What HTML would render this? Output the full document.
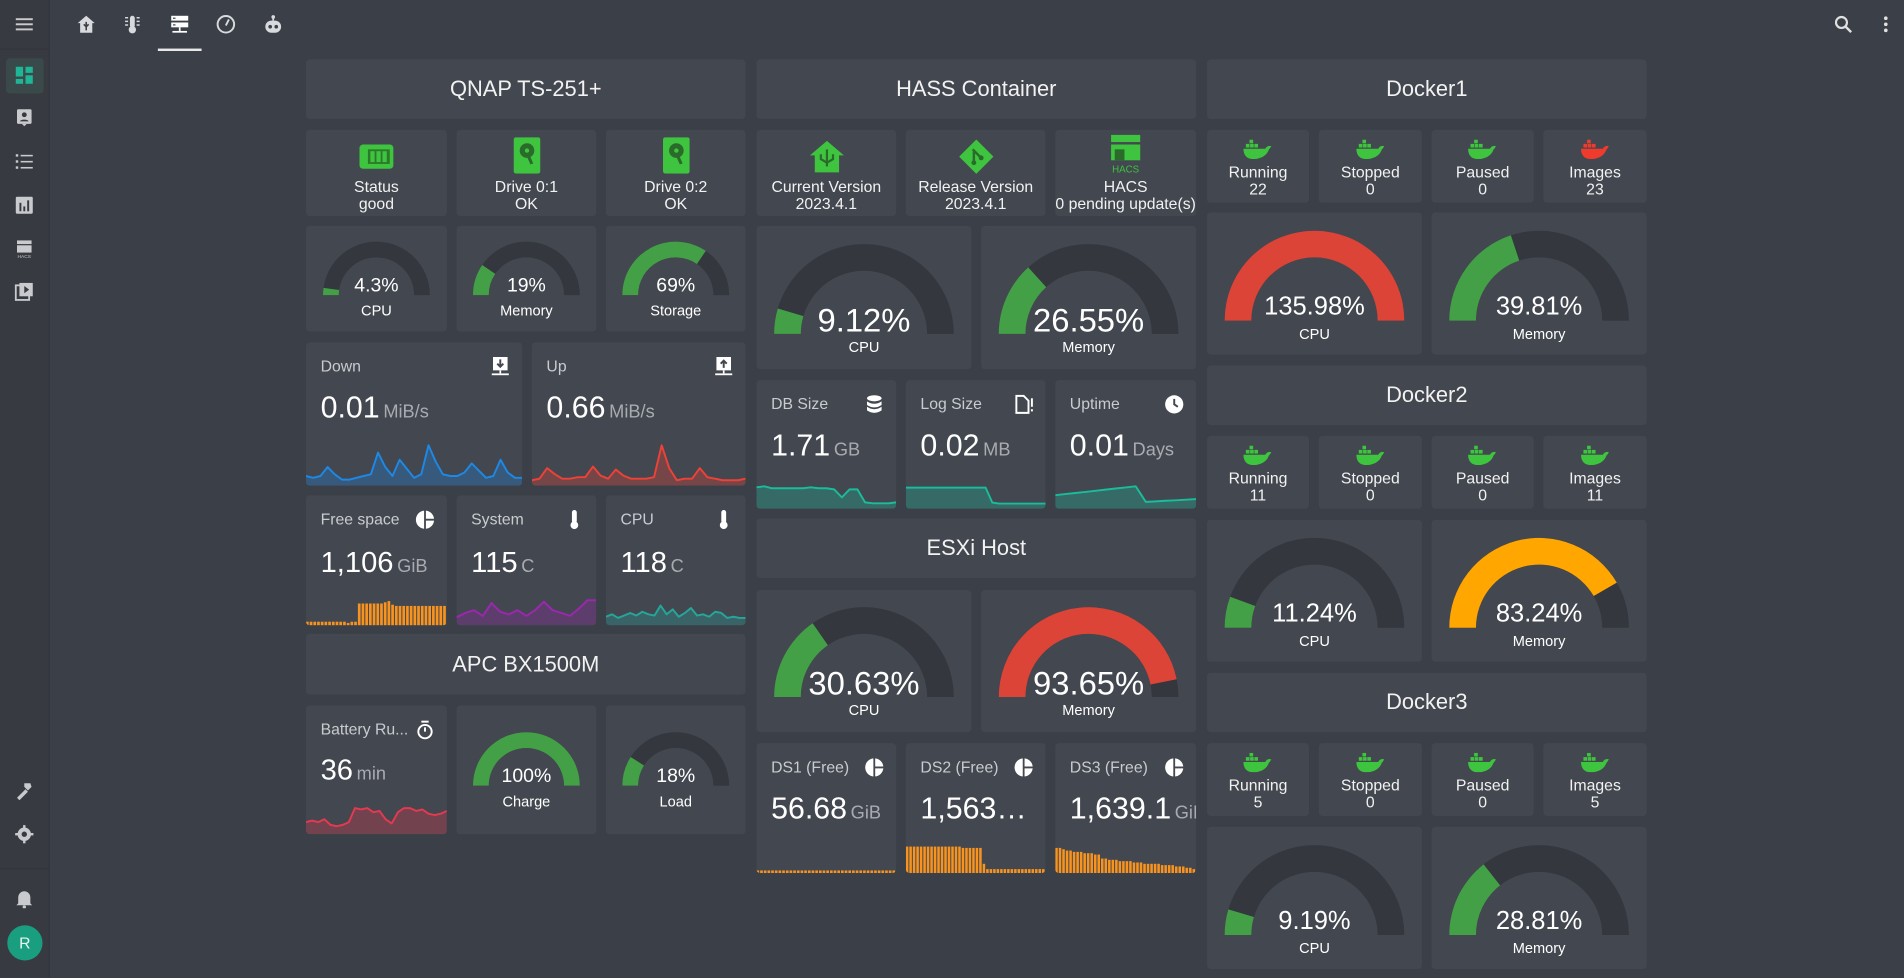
<!DOCTYPE html>
<html><head><meta charset="utf-8">
<style>
html,body{margin:0;padding:0;width:1904px;height:977px;overflow:hidden;background:#3b3f47;font-family:"Liberation Sans",sans-serif;color:#fff}
#wrap{position:absolute;left:0;top:0;width:1568px;height:805px;transform:scale(1.21429);transform-origin:0 0;background:#3b3f47}
.c{position:absolute;background:#43474f;border-radius:3px;overflow:hidden}
.tt{text-align:center;font-size:18px;color:#f2f2f2}
.st{text-align:center;font-size:13px;line-height:14px;color:#f2f2f2}
.st .ic{position:absolute;left:50%;transform:translateX(-50%)}
.en .t{position:absolute;left:12px;top:12px;font-size:13px;color:#c9cbcf;white-space:nowrap}
.en .i{position:absolute;right:10px;top:12px;width:16px;height:16px}
.en .v{position:absolute;left:12px;font-size:25px;color:#fff;white-space:nowrap}
.en .v span{font-size:15px;color:#a9abb0;margin-left:3px}
.en svg.sp{position:absolute;left:0;bottom:0}
.g svg{position:absolute;left:0;top:0}
.g .gv{position:absolute;left:0;right:0;text-align:center;color:#fff}
.g .gl{position:absolute;left:0;right:0;text-align:center;font-size:12px;color:#fff}
#side{position:absolute;left:0;top:0;width:40px;height:805px;background:#373a41;border-right:1px solid #33363c}
.si{position:absolute;left:12px;width:16px;height:16px}
</style></head><body>
<div id="wrap">
<div id="side">
 <svg class="si" style="top:12px" viewBox="0 0 16 16"><rect x="1" y="3" width="14" height="1.6" fill="#c8cacd"/><rect x="1" y="7.2" width="14" height="1.6" fill="#c8cacd"/><rect x="1" y="11.4" width="14" height="1.6" fill="#c8cacd"/></svg>
 <div style="position:absolute;left:0;top:40px;width:40px;height:1px;background:#33363c"></div>
 <div style="position:absolute;left:5px;top:48px;width:31px;height:29px;background:#3a4a4a;border-radius:3px"></div>
 <svg class="si" style="top:54px" viewBox="0 0 16 16"><rect x="1" y="1" width="6" height="8" fill="#1fb597"/><rect x="9" y="1" width="6" height="5" fill="#1fb597"/><rect x="1" y="11" width="6" height="4" fill="#1fb597"/><rect x="9" y="8" width="6" height="7" fill="#1fb597"/></svg>
 <svg class="si" style="top:89px" viewBox="0 0 16 16"><rect x="2" y="1" width="12" height="12" rx="1" fill="#c8cacd"/><circle cx="8" cy="5.5" r="2" fill="#373a41"/><path d="M4.5 11c0-2 7-2 7 0z" fill="#373a41"/><path d="M6 13l2 2 2-2z" fill="#c8cacd"/></svg>
 <svg class="si" style="top:125px" viewBox="0 0 16 16"><g fill="#c8cacd"><rect x="1" y="2" width="2" height="2"/><rect x="5" y="2.5" width="10" height="1.3"/><rect x="1" y="7" width="2" height="2"/><rect x="5" y="7.5" width="10" height="1.3"/><rect x="1" y="12" width="2" height="2"/><rect x="5" y="12.5" width="10" height="1.3"/></g></svg>
 <svg class="si" style="top:161px" viewBox="0 0 16 16"><rect x="1" y="1" width="14" height="14" rx="1" fill="#c8cacd"/><g fill="#373a41"><rect x="4" y="6" width="1.6" height="7"/><rect x="7.2" y="9" width="1.6" height="4"/><rect x="10.4" y="4" width="1.6" height="9"/></g></svg>
 <svg class="si" style="top:197px" viewBox="0 0 16 16"><rect x="2" y="1" width="12" height="3" fill="#c8cacd"/><rect x="2" y="5" width="12" height="6" fill="#c8cacd"/><text x="8" y="15.5" font-size="4" fill="#c8cacd" text-anchor="middle">HACS</text></svg>
 <svg class="si" style="top:232px" viewBox="0 0 16 16"><rect x="1" y="3" width="11" height="12" fill="none" stroke="#c8cacd" stroke-width="1.5"/><rect x="4" y="1" width="11" height="11" fill="#c8cacd"/><path d="M8 3.5l4 3-4 3z" fill="#373a41"/></svg>
 <svg class="si" style="top:643px" viewBox="0 0 16 16"><path d="M2 14l7-7 2 2-7 7z M8 2l5 0 1 3-3 3-3-3z" fill="#c8cacd"/></svg>
 <svg class="si" style="top:679px" viewBox="0 0 16 16"><circle cx="8" cy="8" r="5.5" fill="#c8cacd"/><circle cx="8" cy="8" r="2.2" fill="#373a41"/><g fill="#c8cacd"><rect x="7" y="0.5" width="2" height="3"/><rect x="7" y="12.5" width="2" height="3"/><rect x="0.5" y="7" width="3" height="2"/><rect x="12.5" y="7" width="3" height="2"/></g></svg>
 <div style="position:absolute;left:0;top:715px;width:40px;height:1px;background:#33363c"></div>
 <svg class="si" style="top:732px" viewBox="0 0 16 16"><path d="M3 12V7a5 5 0 0110 0v5l1.5 1.5h-13z" fill="#c8cacd"/><circle cx="8" cy="15" r="1.4" fill="#c8cacd"/></svg>
 <div style="position:absolute;left:6px;top:762px;width:29px;height:29px;border-radius:50%;background:#1a9e80;font-size:13px;line-height:29px;text-align:center;color:#e8f5f0">R</div>
</div>
<div>
 <svg style="position:absolute;left:63px;top:12px" width="16" height="16" viewBox="0 0 16 16"><path d="M8 1l7 6h-2v8H3V7H1z" fill="#d8dadd"/><path d="M8 6v7M6 8l2 2 2-2" stroke="#3b3f47" stroke-width="1.3" fill="none"/></svg>
 <svg style="position:absolute;left:101px;top:12px" width="16" height="16" viewBox="0 0 16 16"><rect x="6" y="1" width="4" height="10" rx="2" fill="#d8dadd"/><circle cx="8" cy="12.5" r="3" fill="#d8dadd"/><g fill="#d8dadd"><rect x="2" y="2" width="2.5" height="1.2"/><rect x="2" y="5" width="2.5" height="1.2"/><rect x="2" y="8" width="2.5" height="1.2"/><rect x="11.5" y="2" width="2.5" height="1.2"/><rect x="11.5" y="5" width="2.5" height="1.2"/><rect x="11.5" y="8" width="2.5" height="1.2"/></g></svg>
 <svg style="position:absolute;left:140px;top:12px" width="16" height="16" viewBox="0 0 16 16"><rect x="1" y="1" width="14" height="4" fill="#fff"/><rect x="1" y="6.5" width="14" height="4" fill="#fff"/><rect x="7.3" y="10.5" width="1.4" height="3" fill="#fff"/><rect x="2" y="13.5" width="12" height="1.4" fill="#fff"/><rect x="2.5" y="2.5" width="2" height="1" fill="#3b3f47"/><rect x="2.5" y="8" width="2" height="1" fill="#3b3f47"/></svg>
 <div style="position:absolute;left:130px;top:40px;width:36px;height:2px;background:#e8e8e8"></div>
 <svg style="position:absolute;left:178px;top:12px" width="16" height="16" viewBox="0 0 16 16"><circle cx="8" cy="8" r="6.8" fill="none" stroke="#d8dadd" stroke-width="1.6"/><path d="M8 9l2.5-5" stroke="#d8dadd" stroke-width="1.6"/></svg>
 <svg style="position:absolute;left:217px;top:12px" width="16" height="16" viewBox="0 0 16 16"><circle cx="8" cy="2" r="1.5" fill="#d8dadd"/><rect x="7.3" y="2" width="1.4" height="3" fill="#d8dadd"/><rect x="1.5" y="5" width="13" height="10" rx="5" fill="#d8dadd"/><circle cx="5.5" cy="10" r="1.5" fill="#3b3f47"/><circle cx="10.5" cy="10" r="1.5" fill="#3b3f47"/></svg>
 <svg style="position:absolute;left:1510px;top:12px" width="16" height="16" viewBox="0 0 16 16"><circle cx="6.5" cy="6.5" r="4.5" fill="none" stroke="#e0e0e0" stroke-width="1.8"/><path d="M10 10l4.5 4.5" stroke="#e0e0e0" stroke-width="2"/></svg>
 <svg style="position:absolute;left:1545px;top:12px" width="16" height="16" viewBox="0 0 16 16"><circle cx="8" cy="3" r="1.5" fill="#e0e0e0"/><circle cx="8" cy="8" r="1.5" fill="#e0e0e0"/><circle cx="8" cy="13" r="1.5" fill="#e0e0e0"/></svg>
</div>

<div class="c tt" style="left:252px;top:49px;width:362px;height:49px;line-height:49px">QNAP TS-251+</div>
<div class="c st" style="left:252px;top:107px;width:116px;height:71px"><svg class="ic" style="top:10px" width="28" height="24" viewBox="0 0 28 24"><rect x="0" y="2" width="28" height="20" rx="3" fill="#3ec43e"/><rect x="7" y="6" width="18" height="12" fill="#2a7a2a"/><g fill="#3ec43e"><rect x="9" y="7.5" width="3.5" height="9"/><rect x="14" y="7.5" width="3.5" height="9"/><rect x="19" y="7.5" width="3.5" height="9"/></g></svg><div style="position:absolute;top:40px;width:100%">Status<br>good</div></div>
<div class="c st" style="left:376px;top:107px;width:115px;height:71px"><svg class="ic" style="top:6px" width="22" height="30" viewBox="0 0 22 30"><rect width="22" height="30" rx="2" fill="#3ec43e"/><circle cx="11" cy="11" r="6" fill="#2a6a2a"/><circle cx="11" cy="11" r="1.8" fill="#3ec43e"/><path d="M11 13l4 9" stroke="#2a6a2a" stroke-width="2.5"/></svg><div style="position:absolute;top:40px;width:100%">Drive 0:1<br>OK</div></div>
<div class="c st" style="left:499px;top:107px;width:115px;height:71px"><svg class="ic" style="top:6px" width="22" height="30" viewBox="0 0 22 30"><rect width="22" height="30" rx="2" fill="#3ec43e"/><circle cx="11" cy="11" r="6" fill="#2a6a2a"/><circle cx="11" cy="11" r="1.8" fill="#3ec43e"/><path d="M11 13l4 9" stroke="#2a6a2a" stroke-width="2.5"/></svg><div style="position:absolute;top:40px;width:100%">Drive 0:2<br>OK</div></div>

<div class="c en" style="left:252px;top:282px;width:178px;height:118px"><div class="t">Down</div><svg class="i" viewBox="0 0 16 16"><rect x="2" y="0" width="12" height="11" fill="#fff"/><path d="M8 2v6M5.5 5.5L8 8l2.5-2.5" stroke="#43474f" stroke-width="1.6" fill="none"/><rect x="7.3" y="11" width="1.4" height="2.5" fill="#fff"/><rect x="1" y="13.5" width="14" height="1.5" fill="#fff"/></svg><div class="v" style="top:40px">0.01<span>MiB/s</span></div><svg class="sp" id="sp-down" width="178" height="38"></svg></div>
<div class="c en" style="left:438px;top:282px;width:176px;height:118px"><div class="t">Up</div><svg class="i" viewBox="0 0 16 16"><rect x="2" y="0" width="12" height="11" fill="#fff"/><path d="M8 9V3M5.5 5.5L8 3l2.5 2.5" stroke="#43474f" stroke-width="1.6" fill="none"/><rect x="7.3" y="11" width="1.4" height="2.5" fill="#fff"/><rect x="1" y="13.5" width="14" height="1.5" fill="#fff"/></svg><div class="v" style="top:40px">0.66<span>MiB/s</span></div><svg class="sp" id="sp-up" width="176" height="38"></svg></div>

<div class="c en" style="left:252px;top:408px;width:116px;height:107px"><div class="t">Free space</div><svg class="i" viewBox="0 0 16 16"><circle cx="8" cy="8" r="7.5" fill="#fff"/><path d="M8 0v16M8 8h8" stroke="#43474f" stroke-width="1.5"/></svg><div class="v" style="top:42px;font-size:24px">1,106<span>GiB</span></div><svg class="sp" id="bar-free" width="116" height="24"></svg></div>
<div class="c en" style="left:376px;top:408px;width:115px;height:107px"><div class="t">System</div><svg class="i" viewBox="0 0 16 16"><rect x="6" y="0" width="4" height="11" rx="2" fill="#fff"/><circle cx="8" cy="12.5" r="3.2" fill="#fff"/></svg><div class="v" style="top:42px;font-size:24px">115<span>C</span></div><svg class="sp" id="sp-system" width="115" height="26"></svg></div>
<div class="c en" style="left:499px;top:408px;width:115px;height:107px"><div class="t">CPU</div><svg class="i" viewBox="0 0 16 16"><rect x="6" y="0" width="4" height="11" rx="2" fill="#fff"/><circle cx="8" cy="12.5" r="3.2" fill="#fff"/></svg><div class="v" style="top:42px;font-size:24px">118<span>C</span></div><svg class="sp" id="sp-cputemp" width="115" height="26"></svg></div>

<div class="c tt" style="left:252px;top:522px;width:362px;height:50px;line-height:50px">APC BX1500M</div>
<div class="c en" style="left:252px;top:581px;width:116px;height:106px"><div class="t">Battery Ru...</div><svg class="i" viewBox="0 0 16 16"><circle cx="8" cy="9.5" r="5.5" fill="none" stroke="#fff" stroke-width="1.6"/><rect x="5" y="0.5" width="6" height="1.6" fill="#fff"/><path d="M8 9.5V6" stroke="#fff" stroke-width="1.6"/></svg><div class="v" style="top:40px;font-size:24px">36<span>min</span></div><svg class="sp" id="sp-battery" width="116" height="30"></svg></div>

<div class="c tt" style="left:623px;top:49px;width:362px;height:49px;line-height:49px">HASS Container</div>
<div class="c st" style="left:623px;top:107px;width:115px;height:71px"><svg class="ic" style="top:8px" width="30" height="28" viewBox="0 0 30 28"><path d="M15 1l14 12h-4v14H5V13H1z" fill="#3ec43e"/><path d="M15 8v14M10 12v4l5 3M20 12v4l-5 3" stroke="#2a6a2a" stroke-width="1.8" fill="none"/></svg><div style="position:absolute;top:40px;width:100%">Current Version<br>2023.4.1</div></div>
<div class="c st" style="left:746px;top:107px;width:115px;height:71px"><svg class="ic" style="top:7px" width="28" height="30" viewBox="0 0 28 28"><rect x="4" y="4" width="20" height="20" transform="rotate(45 14 14)" fill="#3ec43e"/><path d="M11 8l7 7M12 10v9" stroke="#2a6a2a" stroke-width="2"/><circle cx="12" cy="19" r="2" fill="#2a6a2a"/><circle cx="18" cy="15" r="2" fill="#2a6a2a"/></svg><div style="position:absolute;top:40px;width:100%">Release Version<br>2023.4.1</div></div>
<div class="c st" style="left:869px;top:107px;width:116px;height:71px"><svg class="ic" style="top:4px" width="26" height="32" viewBox="0 0 26 32"><rect x="1" y="0" width="24" height="6" fill="#3ec43e"/><rect x="1" y="8" width="24" height="13" fill="#3ec43e"/><rect x="4" y="12" width="8" height="9" fill="#2a6a2a"/><text x="13" y="31" font-size="8" fill="#3ec43e" text-anchor="middle" font-family="Liberation Sans">HACS</text></svg><div style="position:absolute;top:40px;width:100%">HACS<br>0 pending update(s)</div></div>

<div class="c en" style="left:623px;top:313px;width:115px;height:106px"><div class="t">DB Size</div><svg class="i" viewBox="0 0 16 16"><ellipse cx="8" cy="3" rx="6" ry="2.5" fill="#fff"/><path d="M2 5.5q6 4 12 0v3q-6 4-12 0zM2 10q6 4 12 0v3q-6 4-12 0z" fill="#fff"/></svg><div class="v" style="top:40px">1.71<span>GB</span></div><svg class="sp" id="sp-db" width="115" height="26"></svg></div>
<div class="c en" style="left:746px;top:313px;width:115px;height:106px"><div class="t">Log Size</div><svg class="i" viewBox="0 0 16 16"><path d="M2 1h6l4 4v10H2z" fill="none" stroke="#fff" stroke-width="1.6"/><rect x="14" y="3" width="1.6" height="7" fill="#fff"/><rect x="14" y="12" width="1.6" height="1.8" fill="#fff"/></svg><div class="v" style="top:40px">0.02<span>MB</span></div><svg class="sp" id="sp-log" width="115" height="26"></svg></div>
<div class="c en" style="left:869px;top:313px;width:116px;height:106px"><div class="t">Uptime</div><svg class="i" viewBox="0 0 16 16"><circle cx="8" cy="8" r="7.5" fill="#fff"/><path d="M8 3.5V8l3 2" stroke="#43474f" stroke-width="1.6" fill="none"/></svg><div class="v" style="top:40px">0.01<span>Days</span></div><svg class="sp" id="sp-uptime" width="116" height="26"></svg></div>

<div class="c tt" style="left:623px;top:427px;width:362px;height:49px;line-height:49px">ESXi Host</div>

<div class="c en" style="left:623px;top:612px;width:115px;height:107px"><div class="t">DS1 (Free)</div><svg class="i" viewBox="0 0 16 16"><circle cx="8" cy="8" r="7.5" fill="#fff"/><path d="M8 0v16M8 8h8" stroke="#43474f" stroke-width="1.5"/></svg><div class="v" style="top:40px;font-size:25px">56.68<span>GiB</span></div><svg class="sp" id="bar-ds1" width="115" height="26"></svg></div>
<div class="c en" style="left:746px;top:612px;width:115px;height:107px"><div class="t">DS2 (Free)</div><svg class="i" viewBox="0 0 16 16"><circle cx="8" cy="8" r="7.5" fill="#fff"/><path d="M8 0v16M8 8h8" stroke="#43474f" stroke-width="1.5"/></svg><div class="v" style="top:40px;font-size:25px">1,563…</div><svg class="sp" id="bar-ds2" width="115" height="26"></svg></div>
<div class="c en" style="left:869px;top:612px;width:116px;height:107px"><div class="t">DS3 (Free)</div><svg class="i" viewBox="0 0 16 16"><circle cx="8" cy="8" r="7.5" fill="#fff"/><path d="M8 0v16M8 8h8" stroke="#43474f" stroke-width="1.5"/></svg><div class="v" style="top:40px;font-size:25px">1,639.1<span>GiB</span></div><svg class="sp" id="bar-ds3" width="116" height="26"></svg></div>

<div class="c tt" style="left:994px;top:49px;width:362px;height:49px;line-height:49px">Docker1</div>
<div class="c tt" style="left:994px;top:301px;width:362px;height:49px;line-height:49px">Docker2</div>
<div class="c tt" style="left:994px;top:554px;width:362px;height:49px;line-height:49px">Docker3</div>
</div>

<script>
var downVals = [4,3,4,9,5,2,2,3,4,5,17,9,4,13,8,3,5,21,12,5,4,4,6,11,7,3,4,13,6,3,3];
var upVals = [2,3,10,6,3,3,4,4,11,5,3,9,5,3,3,3,4,25,10,2,3,3,10,4,3,2,2,2,3];
var systemVals = [4,7,9,5,14,8,6,9,5,9,15,9,7,5,10,16,16];
var cpuTempVals = [5,7,4,6,8,6,9,7,6,14,7,11,5,8,12,6,7,5,9,8,4,5,4,4];
var batteryVals = [7,8,7,9,5,4,5,7,17,16,17,14,15,9,6,14,17,17,15,16,13,12,13,15];
var dbVals = [19,20,18,18,18,18,18,19,18,18,17,9,17,17,4,3,3,3,4];
var logVals = [20,20,20,20,20,20,20,20,20,20,20,20,20,4,3,3,3,3,3,3,3,3];
var uptimeVals = [10,11,12,13,14,15,16,17,18,4,4.5,5,5.5,6,6.5];
var freeBars = [3,3,3,3,3,3,3,3,3,3,3,2,3,3,18,18,18,18,18,18,18,19,20,17,16,16,16,16,16,16,16,16,16,16,16,16,16,16];
var ds1Bars = [2,2,2,2,2,2,2,2,2,2,2,2,2,2,2,2,2,2,2,2,2,2,2,2,2,2,2,2,2,2,2,2,2,2,2,2,2,2];
var ds2Bars = [20,20,20,20,20,20,20,20,20,20,20,20,20,20,20,20,19,19,19,19,19,19,7,3,3,3,3,3,3,3,3,3,3,3,3,3,3,3,3,3];
var ds3Bars = [19,19,18,17,17,16,16,16,15,15,15,14,14,11,11,10,10,10,9,9,9,9,8,8,8,7,7,7,7,7,6,6,6,6,5,5,5,4,4,3];

var gaugeVals = [4.3,19,69,100,18,9.12,26.55,30.63,93.65,135.98,39.81,11.24,83.24,9.19,28.81];
var gaugeLabels = ["CPU","Memory","Storage","Charge","Load","CPU","Memory","CPU","Memory","CPU","Memory","CPU","Memory","CPU","Memory"];
var gaugeValText = ["4.3%","19%","69%","100%","18%","9.12%","26.55%","30.63%","93.65%","135.98%","39.81%","11.24%","83.24%","9.19%","28.81%"];
var gaugeColors = ["#43a047","#43a047","#43a047","#43a047","#43a047","#43a047","#43a047","#43a047","#db4437","#db4437","#43a047","#43a047","#ffa600","#43a047","#43a047"];
var gaugeNames = ["qnap-cpu","qnap-memory","qnap-storage","apc-charge","apc-load","hass-cpu","hass-memory","esxi-cpu","esxi-memory","docker1-cpu","docker1-memory","docker2-cpu","docker2-memory","docker3-cpu","docker3-memory"];

var dockerCounts = [[22,0,0,23],[11,0,0,11],[5,0,0,5]];
var dockerLabels = ["Running","Stopped","Paused","Images"];

var NS = "http://www.w3.org/2000/svg";
var wrap = document.getElementById("wrap");
var gaugeBoxes = [
 [252,186,116,87,"s",57],[376,186,115,87,"s",57],[499,186,115,87,"s",57],
 [376,581,115,106,"s",66],[499,581,115,106,"s",66],
 [623,186,177,118,"b",89],[808,186,177,118,"b",89],
 [623,486,177,117,"b",88],[808,486,177,117,"b",88],
 [994,175,177,117,"b",89],[1179,175,177,117,"b",89],
 [994,428,177,117,"b",89],[1179,428,177,117,"b",89],
 [994,681,177,117,"b",89],[1179,681,177,117,"b",89]
];
function arcPath(cx,cy,ro,ri,f){
  f=Math.max(0,Math.min(1,f));
  var a=Math.PI*(1-f);
  var xo=cx+ro*Math.cos(a), yo=cy-ro*Math.sin(a), xi=cx+ri*Math.cos(a), yi=cy-ri*Math.sin(a);
  return "M"+(cx-ro)+" "+cy+" A"+ro+" "+ro+" 0 0 1 "+xo+" "+yo+" L"+xi+" "+yi+" A"+ri+" "+ri+" 0 0 0 "+(cx-ri)+" "+cy+" Z";
}
for (var i=0;i<gaugeVals.length;i++){
  var b=gaugeBoxes[i];
  var card=document.createElement("div");
  card.className="c g";
  card.style.cssText="left:"+b[0]+"px;top:"+b[1]+"px;width:"+b[2]+"px;height:"+b[3]+"px";
  
  
  var big=b[4]=="b";
  var ro=big?74:44, ri=big?52:31, cx=b[2]/2, cy=b[5];
  var svg=document.createElementNS(NS,"svg");
  svg.setAttribute("width",b[2]); svg.setAttribute("height",b[3]);
  var tr=document.createElementNS(NS,"path");
  tr.setAttribute("d",arcPath(cx,cy,ro,ri,1)); tr.setAttribute("fill","#34373e");
  
  
  svg.appendChild(tr);
  var fl=document.createElementNS(NS,"path");
  fl.setAttribute("d",arcPath(cx,cy,ro,ri,gaugeVals[i]/100)); fl.setAttribute("fill",gaugeColors[i]);
  
  
  svg.appendChild(fl);
  card.appendChild(svg);
  var vt=document.createElement("div"); vt.className="gv";
  
  
  vt.textContent=gaugeValText[i];
  var fs=big?27:16;
  vt.style.fontSize=fs+"px";
  vt.style.top=(cy-(big?10:6)-fs*0.6)+"px";
  if(big && i>=9) { vt.style.fontSize="21px"; vt.style.top=(cy-10-13)+"px"; }
  card.appendChild(vt);
  var lb=document.createElement("div"); lb.className="gl";
  
  
  lb.textContent=gaugeLabels[i];
  lb.style.top=(cy+(big?4:6))+"px";
  card.appendChild(lb);
  wrap.appendChild(card);
}

var dockerTops=[107,359,612], dockerXs=[[994,84],[1086,85],[1179,84],[1271,85]];
for (var d=0; d<3; d++){
  for (var k=0;k<4;k++){
    var dc=document.createElement("div");
    dc.className="c st";
    dc.style.cssText="left:"+dockerXs[k][0]+"px;top:"+dockerTops[d]+"px;width:"+dockerXs[k][1]+"px;height:60px";
    
    
    var col=(d==0&&k==3)?"#ef3b2d":"#3ec43e";
    dc.innerHTML='<svg class="ic" style="top:8px" width="26" height="16" viewBox="0 0 26 16"><rect x="6" y="0" width="3" height="3" fill="'+col+'"/><rect x="3" y="3.5" width="3" height="3" fill="'+col+'"/><rect x="6.5" y="3.5" width="3" height="3" fill="'+col+'"/><rect x="10" y="3.5" width="3" height="3" fill="'+col+'"/><path d="M1 7.5h18c1-2 3-3 5-2-1 1-1 2-2 2.5-2 6-8 8-13 8-5 0-8-3-8-8.5z" fill="'+col+'"/></svg><div style="position:absolute;top:28px;width:100%">'+dockerLabels[k]+'<br>'+dockerCounts[d][k]+'</div>';
    wrap.appendChild(dc);
  }
}

function spark(id, vals, color, top){
  var svg=document.getElementById(id);
  var w=+svg.getAttribute("width"), h=+svg.getAttribute("height");
  var max=Math.max.apply(null,vals);
  var xs=function(i){return i*w/(vals.length-1);};
  var ys=function(v){return h-2-(v/max)*(h-4)*top;};
  var dl="";
  for (var i=0;i<vals.length;i++){ dl+=(i?"L":"M")+xs(i).toFixed(1)+" "+ys(vals[i]).toFixed(1)+" "; }
  var area=document.createElementNS(NS,"path");
  area.setAttribute("d",dl+"L"+w+" "+h+" L0 "+h+" Z");
  area.setAttribute("fill",color); area.setAttribute("fill-opacity","0.3");
  
  
  svg.appendChild(area);
  var ln=document.createElementNS(NS,"path");
  ln.setAttribute("d",dl); ln.setAttribute("fill","none"); ln.setAttribute("stroke",color); ln.setAttribute("stroke-width","1.6");
  ln.setAttribute("stroke-linejoin","round");
  
  
  svg.appendChild(ln);
}
spark("sp-down",downVals,"#1e88e5",0.92);
spark("sp-up",upVals,"#ef4136",0.92);
spark("sp-system",systemVals,"#9c27b0",0.85);
spark("sp-cputemp",cpuTempVals,"#26a69a",0.65);
spark("sp-battery",batteryVals,"#e53950",0.75);
spark("sp-db",dbVals,"#1abc9c",0.75);
spark("sp-log",logVals,"#1abc9c",0.7);
spark("sp-uptime",uptimeVals,"#1abc9c",0.75);

function bars(id, vals){
  var svg=document.getElementById(id);
  var w=+svg.getAttribute("width"), h=+svg.getAttribute("height");
  var max=22;
  var bw=w/vals.length;
  for (var i=0;i<vals.length;i++){
    var r=document.createElementNS(NS,"rect");
    var bh=vals[i]/max*(h-2);
    r.setAttribute("x",(i*bw).toFixed(2)); r.setAttribute("width",(bw*0.72).toFixed(2));
    r.setAttribute("y",(h-bh).toFixed(2)); r.setAttribute("height",bh.toFixed(2));
    r.setAttribute("fill","#f7931e");
    
    
    svg.appendChild(r);
  }
}
bars("bar-free",freeBars);
bars("bar-ds1",ds1Bars);
bars("bar-ds2",ds2Bars);
bars("bar-ds3",ds3Bars);
</script>
</body></html>
